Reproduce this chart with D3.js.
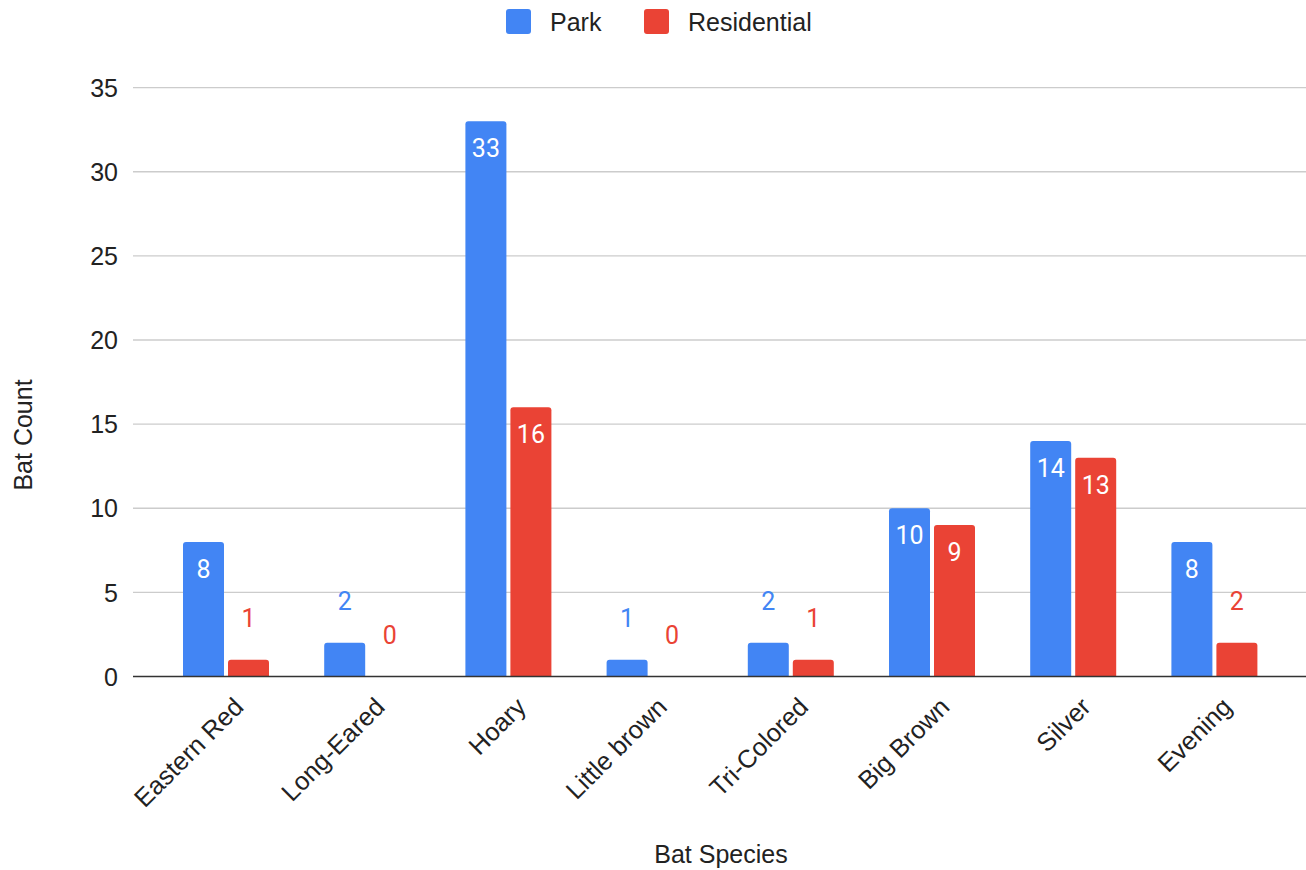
<!DOCTYPE html>
<html>
<head>
<meta charset="utf-8">
<script src="https://cdn.jsdelivr.net/npm/d3@7"></script>
<style>
html,body{margin:0;padding:0;background:#fff;}
svg{display:block;}
</style>
</head>
<body>
<svg id="chart" width="1306" height="870"></svg>
<script>
const categories = ["Eastern Red","Long-Eared","Hoary","Little brown","Tri-Colored","Big Brown","Silver","Evening"];
const seriesNames = ["Park","Residential"];
const parkValues = [8,2,33,1,2,10,14,8];
const residentialValues = [1,0,16,0,1,9,13,2];
const yTicks = [0,5,10,15,20,25,30,35];
const colors = ["#4285F4","#EA4335"];
const allValues = [parkValues, residentialValues];

const svg = d3.select("#chart");
const plotLeft = 133, plotRight = 1306, y0px = 676.5, yTopPx = 87.6;
const axisFont = "'Liberation Sans', Arial, sans-serif";
const labelFont = "Roboto, 'Liberation Sans', sans-serif";

const y = d3.scaleLinear().domain([0,35]).range([y0px, yTopPx]);
const x0 = d3.scaleBand().domain(categories).range([155.4, 1285]).padding(0);
const x1 = d3.scaleBand().domain(seriesNames).range([-43, 43]).paddingInner(0.0889).paddingOuter(0);

// gridlines
svg.append("g").selectAll("line").data(yTicks.filter(d=>d!==0)).join("line")
  .attr("x1", plotLeft).attr("x2", plotRight)
  .attr("y1", d=>y(d)).attr("y2", d=>y(d))
  .attr("stroke", "#cccccc").attr("stroke-width", 1.3);

// y axis labels
const yAxis = d3.axisLeft(y).tickValues(yTicks).tickSize(0).tickPadding(0);
const gy = svg.append("g").attr("transform", `translate(118,0)`).call(yAxis);
gy.select(".domain").remove();
gy.selectAll("text").attr("font-family", axisFont).attr("font-size", 25).attr("fill", "#222").attr("dy","0.35em");

// bars
function barPath(x, yTop, w, h, r){
  r = Math.min(r, h, w/2);
  if (h <= 0) return "";
  return `M${x},${yTop+h}V${yTop+r}Q${x},${yTop} ${x+r},${yTop}H${x+w-r}Q${x+w},${yTop} ${x+w},${yTop+r}V${yTop+h}Z`;
}
const data = [];
categories.forEach((c,i)=>{
  seriesNames.forEach((s,j)=>{
    data.push({cat:c, series:s, j:j, value: allValues[j][i]});
  });
});
const bars = svg.append("g");
bars.selectAll("path").data(data.filter(d=>d.value>0)).join("path")
  .attr("d", d=>{
    const cx = x0(d.cat) + x0.bandwidth()/2;
    const bx = cx + x1(d.series);
    return barPath(bx, y(d.value), x1.bandwidth(), y0px - y(d.value), 3);
  })
  .attr("fill", d=>colors[d.j]);

// baseline
svg.append("line").attr("x1", plotLeft).attr("x2", plotRight)
  .attr("y1", y(0)).attr("y2", y(0)).attr("stroke", "#333").attr("stroke-width", 1.5);

// data labels
svg.append("g").selectAll("text").data(data).join("text")
  .attr("x", d=>x0(d.cat) + x0.bandwidth()/2 + x1(d.series) + x1.bandwidth()/2)
  .attr("y", d=> d.value >= 5 ? y(d.value) + 36 : y(d.value) - 33)
  .attr("text-anchor", "middle")
  .attr("font-family", labelFont).attr("font-size", 25)
  .attr("fill", d=> d.value >= 5 ? "#ffffff" : colors[d.j])
  .text(d=>d.value);

// x labels
const xAxis = d3.axisBottom(x0).tickSize(0).tickPadding(0);
const gx = svg.append("g").attr("transform", `translate(0,${y0px})`).call(xAxis);
gx.select(".domain").remove();
gx.selectAll(".tick text")
  .attr("font-family", axisFont).attr("font-size", 25.5).attr("fill", "#222")
  .attr("text-anchor", "end").attr("y", 0).attr("dy", 0)
  .attr("transform", "translate(19,32) rotate(-45)");

// axis titles
svg.append("text").attr("x", 721).attr("y", 863).attr("text-anchor","middle")
  .attr("font-family", axisFont).attr("font-size", 25).attr("fill","#222").text("Bat Species");
svg.append("text").attr("transform","translate(32,435) rotate(-90)").attr("text-anchor","middle")
  .attr("font-family", axisFont).attr("font-size", 25).attr("fill","#222").text("Bat Count");

// legend
const legendX = [506, 644];
const lg = svg.append("g");
seriesNames.forEach((s,j)=>{
  lg.append("rect").attr("x", legendX[j]).attr("y", 9).attr("width", 25).attr("height", 25).attr("rx", 3).attr("fill", colors[j]);
  lg.append("text").attr("x", legendX[j]+44).attr("y", 31).attr("font-family", axisFont).attr("font-size", 25).attr("fill","#222").text(s);
});
</script>
</body>
</html>
